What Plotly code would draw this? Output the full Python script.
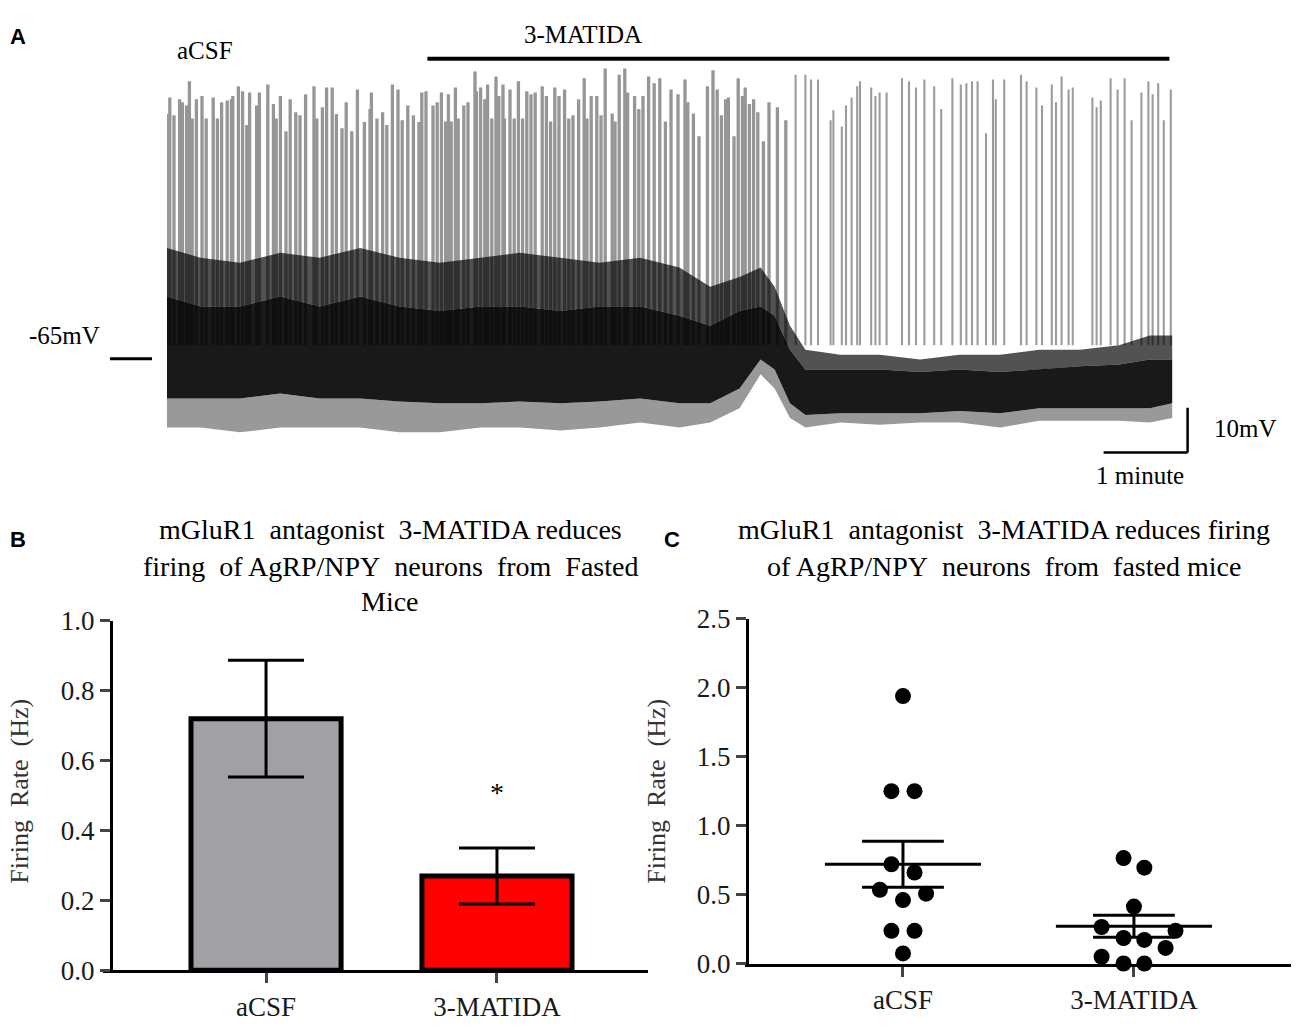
import plotly.graph_objects as go

# ---- panel A: current-clamp trace (time in s, membrane potential in mV) ----
spike_t = [0, 2, 5, 9, 11, 14, 16, 18, 21, 25, 28, 33, 36, 39, 43, 46, 47, 51, 54, 57,
           59, 64, 66, 72, 76, 78, 81, 85, 88, 92, 95, 99, 105, 107, 111, 114, 118, 121,
           125, 128, 132, 136, 141, 145, 146, 150, 154, 157, 161, 165, 168, 172, 176, 180,
           182, 185, 190, 193, 196, 199, 201, 203, 206, 208, 212, 215, 220, 221, 224, 227,
           229, 232, 235, 237, 240, 241, 245, 248, 251, 254, 257, 260, 263, 268, 271, 274,
           277, 280, 284, 287, 290, 294, 298, 300, 303, 307, 310, 313, 318, 320, 323, 327,
           329, 334, 337, 340, 344, 348, 352, 356, 360,
           365, 370, 372, 376, 380, 386, 390, 393, 396, 399, 401, 405, 408, 411, 413, 416,
           419, 422, 426, 430, 436, 442, 449, 456, 460, 465, 474, 476, 482, 485, 489, 493,
           495, 503, 506, 509, 514, 525, 530, 535,
           541, 548, 553, 561, 567, 571, 575, 579, 585, 590, 592, 598, 610, 614, 621, 625,
           632, 635, 639, 644, 647, 661, 664, 667, 674, 679, 684, 689, 696, 701, 704, 708,
           712, 717]
spike_peak = [-10.2, -6.5, -10.5, -6.9, -7.6, -8.3, -2.9, -11.2, -6.9, -6.2, -11.2, -6.5, -11.2,
              -7.6, -7.2, -6.9, -6.2, -4.0, -5.1, -12.7, -5.4, -8.3, -5.4, -3.6, -8.0, -11.2,
              -6.2, -14.1, -6.9, -9.8, -10.5, -5.8, -4.0, -11.2, -8.7, -4.3, -4.3, -10.2, -13.4,
              -7.6, -14.1, -4.7, -12.0, -9.1, -5.4, -11.2, -9.8, -12.7, -3.6, -4.7, -11.6, -8.3,
              -10.5, -12.0,
              -5.4, -5.1, -8.3, -7.6, -5.4, -11.9, -5.8, -11.9, -4.3, -11.2, -8.3, -7.6, -0.7,
              -5.1, -4.3, -6.9, -3.6, -11.2, -1.8, -6.2, -3.6, -11.2, -4.7, -11.2, -2.9, -11.2,
              -5.1, -5.8, -5.4, -4.0, -6.2, -11.9, -4.3, -6.2, -4.7, -11.2, -10.5, -6.9, -2.2,
              -11.2, -6.2, -6.2, -10.5, 0.0, -10.1, -11.9, -1.4, 0.0, -5.4, -6.2, -9.1, -6.2,
              -1.8, -3.3, -2.2, -11.9, -4.7,
              -5.8, -2.5, -7.6, -10.1, -15.2, -4.0, -0.4, -4.7, -10.5, -6.9, -6.5, -15.2, -2.2,
              -6.2, -4.3, -8.0, -6.9, -9.8, -16.3, -7.6, -8.7, -11.6, -1.4, -1.4, -2.5, -2.5,
              -11.6, -9.4, -13.0, -8.3, -6.5, -4.0, -2.9, -4.3, -6.2, -5.4, -5.4, -2.2, -2.9,
              -4.3,
              -2.5, -4.0, -9.1, -2.2, -3.6, -3.3, -2.9, -2.9, -14.5, -2.5, -6.9, -2.5, -1.4,
              -2.9, -4.3, -8.3, -3.6, -7.6, -1.8, -4.7, -4.3, -6.5, -8.7, -7.2, -2.2, -4.7,
              -2.2, -11.6, -5.4, -2.9, -5.8, -3.3, -11.6, -4.7]
spike_base = -62.0
dense_end = 445  # firing becomes sparse after this time (s)

band_t = [0, 24, 52, 81, 109, 138, 166, 195, 224, 252, 281, 309, 338, 366, 388, 409, 424,
          434, 445, 456, 481, 509, 538, 566, 595, 623, 652, 680, 702, 718]
mid_top = [-40.2, -42.4, -43.5, -41.3, -42.4, -40.2, -42.4, -43.5, -42.4, -41.3, -42.4,
           -43.5, -42.4, -44.6, -48.9, -46.7, -44.6, -48.9, -57.6, -63.0, -64.1, -64.1,
           -65.2, -64.1, -64.1, -63.0, -63.0, -62.0, -59.8, -59.8]
black_top = [-51.1, -53.3, -53.3, -51.1, -53.3, -51.1, -53.3, -54.3, -53.3, -53.3, -54.3,
             -53.3, -53.3, -55.4, -57.6, -54.3, -53.3, -55.4, -63.0, -67.4, -67.4, -67.4,
             -68.0, -67.4, -68.0, -67.4, -66.7, -66.3, -65.2, -65.2]
black_bottom = [-73.9, -73.9, -73.9, -72.8, -73.9, -73.9, -74.6, -75.0, -75.0, -74.6, -75.0,
                -74.6, -73.9, -75.0, -75.0, -71.7, -65.2, -67.4, -75.0, -77.6, -77.2, -77.2,
                -77.2, -76.7, -77.2, -76.1, -76.1, -76.1, -76.1, -75.0]
fuzz_bottom = [-80.4, -80.4, -81.5, -80.4, -80.4, -80.4, -81.5, -81.5, -80.4, -80.4, -81.1,
               -80.4, -79.3, -80.4, -79.3, -76.1, -68.5, -71.7, -78.3, -80.4, -79.3, -79.8,
               -79.3, -79.3, -80.4, -78.9, -78.9, -78.9, -79.3, -78.3]

drug_on, drug_off = 186, 716

# ---- panels B and C: firing rate (Hz) ----
groups = ["aCSF", "3-MATIDA"]
group_mean = [0.72, 0.27]
group_sem = [0.167, 0.08]
bar_colors = ["#a1a1a5", "#ff0000"]

acsf_rate = [1.94, 1.25, 1.25, 0.72, 0.66, 0.535, 0.507, 0.46, 0.237, 0.237, 0.073]
acsf_jitter = [0, -0.05, 0.05, -0.05, 0.05, -0.1, 0.1, 0, -0.05, 0.05, 0]
matida_rate = [0.765, 0.695, 0.413, 0.265, 0.237, 0.185, 0.171, 0.113, 0.049, 0.0, 0.0]
matida_jitter = [-0.045, 0.045, 0, -0.14, 0.18, -0.045, 0.045, 0.137, -0.14, -0.045, 0.045]

SERIF = "Liberation Serif, Times New Roman, serif"
SANS = "Liberation Sans, Arial, sans-serif"
W, H = 1300, 1029


def px(x):
    return x / W


def py(y):
    return 1 - y / H


fig = go.Figure()

# spikes: dense part drawn a little heavier, as overlapping sweeps do in the original
for dense in (True, False):
    sx, sy = [], []
    for t, p in zip(spike_t, spike_peak):
        if (t <= dense_end) == dense:
            sx += [t, t, None]
            sy += [spike_base, p, None]
    fig.add_trace(go.Scatter(x=sx, y=sy, mode="lines",
                             line=dict(color="#969696" if dense else "#9c9c9c",
                                       width=3.3 if dense else 2.1),
                             hoverinfo="skip", xaxis="x", yaxis="y"))


def band(top, bottom, color):
    fig.add_trace(go.Scatter(x=band_t + band_t[::-1], y=top + bottom[::-1], mode="lines",
                             fill="toself", fillcolor=color, line=dict(width=0),
                             hoverinfo="skip", xaxis="x", yaxis="y"))


band(mid_top, black_top, "rgba(0,0,0,0.68)")
band(black_top, black_bottom, "rgba(0,0,0,0.9)")
band(black_bottom, fuzz_bottom, "rgba(0,0,0,0.4)")

# panel B bars
fig.add_trace(go.Bar(x=[0, 1], y=group_mean, width=0.65,
                     marker=dict(color=bar_colors, line=dict(color="black", width=5)),
                     error_y=dict(type="data", array=group_sem, color="black", thickness=3, width=38),
                     xaxis="x2", yaxis="y2", hoverinfo="skip"))

# panel C dots
fig.add_trace(go.Scatter(x=[0 + j for j in acsf_jitter], y=acsf_rate, mode="markers",
                         marker=dict(color="black", size=16), cliponaxis=False,
                         xaxis="x3", yaxis="y3"))
fig.add_trace(go.Scatter(x=[1 + j for j in matida_jitter], y=matida_rate, mode="markers",
                         marker=dict(color="black", size=16), cliponaxis=False,
                         xaxis="x3", yaxis="y3"))
# mean +/- sem lines
lx, ly = [], []
for i, (m, s) in enumerate(zip(group_mean, group_sem)):
    lx += [i - 0.338, i + 0.338, None, i, i, None, i - 0.177, i + 0.177, None, i - 0.177, i + 0.177, None]
    ly += [m, m, None, m - s, m + s, None, m + s, m + s, None, m - s, m - s, None]
fig.add_trace(go.Scatter(x=lx, y=ly, mode="lines", line=dict(color="black", width=3),
                         xaxis="x3", yaxis="y3", hoverinfo="skip"))

tickfont = dict(family=SERIF, size=27, color="#1a1a1a")
fig.update_layout(
    width=W, height=H, margin=dict(l=0, r=0, t=0, b=0),
    paper_bgcolor="white", plot_bgcolor="white", showlegend=False,
    xaxis=dict(domain=[px(167), px(167 + 735 * 1.4)], range=[0, 735], visible=False),
    yaxis=dict(domain=[py(354 + 23 * 4.6), py(354 - 66.1 * 4.6)], range=[-88, 1.1], visible=False),
    xaxis2=dict(domain=[px(103), px(648)], range=[-0.706, 1.654], anchor="y2",
                tickvals=[0, 1], ticktext=groups, ticks="outside", ticklen=10, tickwidth=3,
                showline=True, linewidth=3, linecolor="black", showgrid=False, zeroline=False,
                tickfont=tickfont),
    yaxis2=dict(domain=[py(984), py(624)], range=[0, 1.0], anchor="free", position=px(111),
                dtick=0.2, tickformat=".1f", ticks="outside", ticklen=10, tickwidth=3,
                showline=True, linewidth=3, linecolor="black", showgrid=False, zeroline=False,
                tickfont=tickfont),
    xaxis3=dict(domain=[px(745), px(1291)], range=[-0.684, 1.68], anchor="y3",
                tickvals=[0, 1], ticktext=groups, ticks="outside", ticklen=10, tickwidth=3,
                showline=True, linewidth=3, linecolor="black", showgrid=False, zeroline=False,
                tickfont=tickfont),
    yaxis3=dict(domain=[py(977), py(622)], range=[0, 2.5], anchor="free", position=px(747),
                dtick=0.5, tickformat=".1f", ticks="outside", ticklen=10, tickwidth=3,
                showline=True, linewidth=3, linecolor="black", showgrid=False, zeroline=False,
                tickfont=tickfont),
)

shapes = [
    # drug application bar
    dict(type="line", xref="x", yref="paper", x0=drug_on, x1=drug_off, y0=py(45), y1=py(45),
         line=dict(color="black", width=4)),
    # -65 mV marker
    dict(type="line", xref="paper", yref="y", x0=px(110), x1=px(152), y0=-65, y1=-65,
         line=dict(color="black", width=3)),
    # scale bars 10 mV / 1 minute
    dict(type="line", xref="x", yref="y", x0=729, x1=729, y0=-76, y1=-86,
         line=dict(color="black", width=2.5)),
    dict(type="line", xref="x", yref="y", x0=669, x1=729, y0=-86, y1=-86,
         line=dict(color="black", width=2.5)),
]
fig.update_layout(shapes=shapes)


def note(text, x, y, size=24, font=SERIF, bold=False, angle=0, color="black"):
    if bold:
        text = "<b>" + text + "</b>"
    fig.add_annotation(text=text, x=px(x), y=py(y), xref="paper", yref="paper",
                       xanchor="center", yanchor="middle",
                       showarrow=False, textangle=angle,
                       font=dict(family=font, size=size, color=color))


S = "\u00a0"
note("A", 18, 22, 22, SANS, True)
note("B", 18, 540, 22, SANS, True)
note("C", 672, 540, 22, SANS, True)
note("aCSF", 205, 37, 25)
note("3-MATIDA", 583, 20, 25)
note("-65mV", 64, 330, 25)
note("10mV", 1245, 426, 25)
note("1 minute", 1140, 474, 25)

note("mGluR1" + S + " antagonist" + S + " 3-MATIDA reduces", 390, 530, 28)
note("firing" + S + " of AgRP/NPY" + S + " neurons" + S + " from" + S + " Fasted", 390, 568, 28)
note("Mice", 390, 604, 28)
note("mGluR1" + S + " antagonist" + S + " 3-MATIDA reduces firing", 1004, 530, 28)
note("of AgRP/NPY" + S + " neurons" + S + " from" + S + " fasted mice", 1004, 568, 28)

ylab = "Firing" + S + " Rate" + S + " (Hz)"
note(ylab, 20, 800, 26, angle=-90, color="#333333")
note(ylab, 657, 800, 26, angle=-90, color="#333333")

fig.add_annotation(text="*", x=1, y=0.51, xref="x2", yref="y2", showarrow=False,
                   font=dict(family=SERIF, size=28, color="black"))

fig.write_html("out.html", config={"displayModeBar": False},
               post_script="document.body.style.margin='0px';")
